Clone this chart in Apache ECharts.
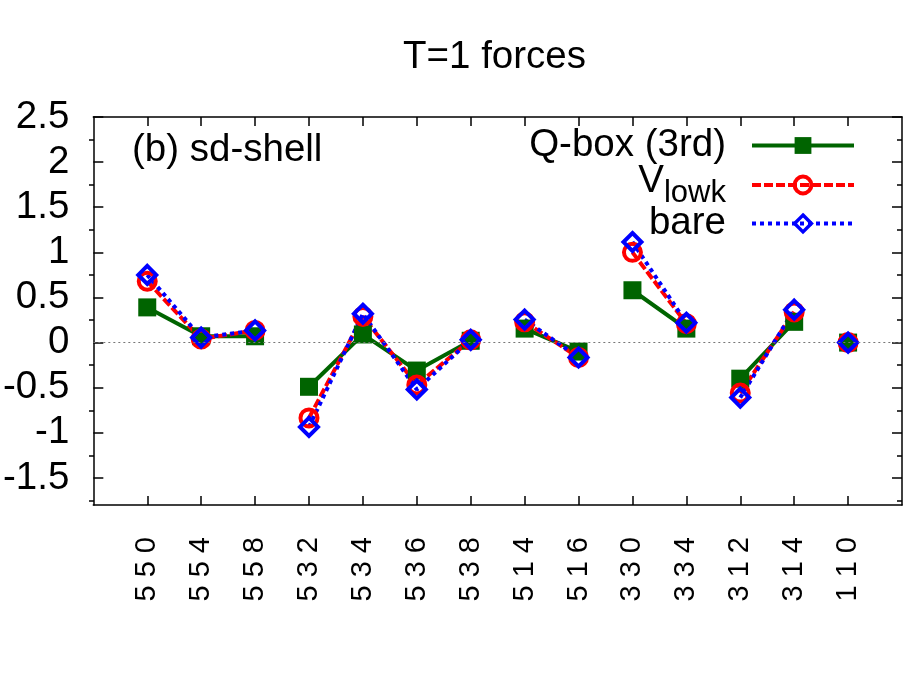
<!DOCTYPE html>
<html><head><meta charset="utf-8">
<script src="https://cdn.jsdelivr.net/npm/echarts@6/dist/echarts.min.js"></script>
<style>html,body{margin:0;padding:0;background:#fff}#c{width:903px;height:700px}</style>
</head><body><div id="c"></div>
<script>
const categories = ['5 5 0','5 5 4','5 5 8','5 3 2','5 3 4','5 3 6','5 3 8','5 1 4','5 1 6','3 3 0','3 3 4','3 1 2','3 1 4','1 1 0'];
const groups = [0,0,0,1,1,1,1,2,2,3,3,4,4,5];
const qbox  = [0.39, 0.07, 0.07, -0.49, 0.09, -0.31, 0.02, 0.155, -0.10, 0.58, 0.155, -0.40, 0.23, 0.0];
const vlowk = [0.68, 0.04, 0.135, -0.835, 0.29, -0.47, 0.03, 0.23, -0.165, 1.0, 0.21, -0.56, 0.34, 0.0];
const bare  = [0.75, 0.055, 0.135, -0.935, 0.32, -0.52, 0.03, 0.255, -0.165, 1.115, 0.22, -0.61, 0.365, 0.0];
const yMajorTicks = [-1.5,-1,-0.5,0,0.5,1,1.5,2,2.5];
const yMinorTicks = [-1.75,-1.25,-0.75,-0.25,0.25,0.75,1.25,1.75,2.25];
const xTicks = categories.map((c,i)=>i);

const FF = '"Liberation Sans", Arial, Helvetica, sans-serif';
const BIG = 38.5;
function build(vals){
  const out=[];
  vals.forEach((v,i)=>{
    if(i>0 && groups[i]!==groups[i-1]) out.push([i-0.5,'-']);
    out.push([i,v]);
  });
  return out;
}
const axisLine = {show:true,onZero:false,lineStyle:{color:'#000',width:1.5}};
const noLine = {show:false,onZero:false};
const tickLine = {color:'#000',width:1.5};
const gridRect = {left:89,right:1,top:117,bottom:195};

const chart = echarts.init(document.getElementById('c'), null, {renderer:'canvas'});
chart.setOption({
  animation:false,
  backgroundColor:'#fff',
  textStyle:{fontFamily:FF},
  grid:[Object.assign({},gridRect), Object.assign({},gridRect)],
  xAxis:[
    {gridIndex:0,type:'value',position:'bottom',min:-1,max:14,interval:1,
     axisLine:axisLine,
     axisTick:{inside:true,length:9,customValues:xTicks,lineStyle:tickLine},
     axisLabel:{customValues:xTicks,rotate:90,margin:32,fontSize:29,color:'#000',fontFamily:FF,
       formatter:v=>categories[v]||''},
     splitLine:{show:false}},
    {gridIndex:0,type:'value',position:'top',min:-1,max:14,interval:1,
     axisLine:axisLine,
     axisTick:{inside:true,length:9,customValues:xTicks,lineStyle:tickLine},
     axisLabel:{show:false},splitLine:{show:false}},
    {gridIndex:1,type:'value',min:-1,max:14,show:false,axisLine:noLine}
  ],
  yAxis:[
    {gridIndex:0,type:'value',position:'left',min:-1.8,max:2.5,
     axisLine:axisLine,
     axisTick:{inside:true,length:10,customValues:yMajorTicks,lineStyle:tickLine},
     axisLabel:{customValues:yMajorTicks,fontSize:BIG,margin:24,color:'#000',fontFamily:FF,formatter:v=>String(v)},
     splitLine:{show:false}},
    {gridIndex:0,type:'value',position:'right',min:-1.8,max:2.5,
     axisLine:axisLine,
     axisTick:{inside:true,length:10,customValues:yMajorTicks,lineStyle:tickLine},
     axisLabel:{show:false},splitLine:{show:false}},
    {gridIndex:1,type:'value',position:'left',min:-1.8,max:2.5,
     axisLine:noLine,
     axisTick:{inside:true,length:5,customValues:yMinorTicks,lineStyle:tickLine},
     axisLabel:{show:false},splitLine:{show:false}},
    {gridIndex:1,type:'value',position:'right',min:-1.8,max:2.5,
     axisLine:noLine,
     axisTick:{inside:true,length:5,customValues:yMinorTicks,lineStyle:tickLine},
     axisLabel:{show:false},splitLine:{show:false}}
  ],
  legend:[
    {data:['Q-box (3rd)'],right:47,top:126,padding:0,itemWidth:102,itemHeight:21,align:'right',selectedMode:false,
     textStyle:{fontSize:BIG,color:'#000',fontFamily:FF,padding:[0,21,0,0]},
     lineStyle:{color:'#006400',width:4,type:'solid'},itemStyle:{color:'#006400',borderWidth:0}},
    {data:['Vlowk'],right:47,top:161,padding:0,itemWidth:102,itemHeight:21,align:'right',selectedMode:false,
     formatter:()=>'{v|V}{s|lowk}',
     textStyle:{fontSize:BIG,color:'#000',fontFamily:FF,padding:[0,21,0,0],
       rich:{v:{fontSize:BIG,lineHeight:BIG,padding:[0,0,8,0],fontFamily:FF,color:'#000'},
             s:{fontSize:31,lineHeight:31,padding:[17,0,0,0],fontFamily:FF,color:'#000'}}},
     lineStyle:{color:'#ff0000',width:4,type:[9,3]},itemStyle:{color:'rgba(0,0,0,0)',borderColor:'#ff0000',borderWidth:4}},
    {data:['bare'],right:47,top:204,padding:0,itemWidth:102,itemHeight:21,align:'right',selectedMode:false,
     textStyle:{fontSize:BIG,color:'#000',fontFamily:FF,padding:[0,21,0,0]},
     lineStyle:{color:'#0000ff',width:4,type:[4,4]},itemStyle:{color:'rgba(0,0,0,0)',borderColor:'#0000ff',borderWidth:3.5}}
  ],
  graphic:[
    {type:'text',x:494.5,y:57,style:{text:'T=1 forces',font:BIG+'px '+FF,fill:'#000',textAlign:'center',textVerticalAlign:'middle'}},
    {type:'text',x:132,y:150,style:{text:'(b) sd-shell',font:BIG+'px '+FF,fill:'#000',textAlign:'left',textVerticalAlign:'middle'}}
  ],
  series:[
    {name:'Q-box (3rd)',type:'line',xAxisIndex:0,yAxisIndex:0,data:build(qbox),connectNulls:false,
     symbol:'rect',symbolSize:18,itemStyle:{color:'#006400'},lineStyle:{color:'#006400',width:4},
     markLine:{silent:true,symbol:['none','none'],label:{show:false},
       lineStyle:{color:'#777',type:[2,3],width:1},data:[{yAxis:0}]}},
    {name:'Vlowk',type:'line',xAxisIndex:0,yAxisIndex:0,data:build(vlowk),connectNulls:false,
     symbol:'circle',symbolSize:17,itemStyle:{color:'rgba(0,0,0,0)',borderColor:'#ff0000',borderWidth:4},
     lineStyle:{color:'#ff0000',width:4,type:[9,3]}},
    {name:'bare',type:'line',xAxisIndex:0,yAxisIndex:0,data:build(bare),connectNulls:false,
     symbol:'diamond',symbolSize:18,itemStyle:{color:'rgba(0,0,0,0)',borderColor:'#0000ff',borderWidth:4},
     lineStyle:{color:'#0000ff',width:4,type:[4,4]}}
  ]
});
</script></body></html>
